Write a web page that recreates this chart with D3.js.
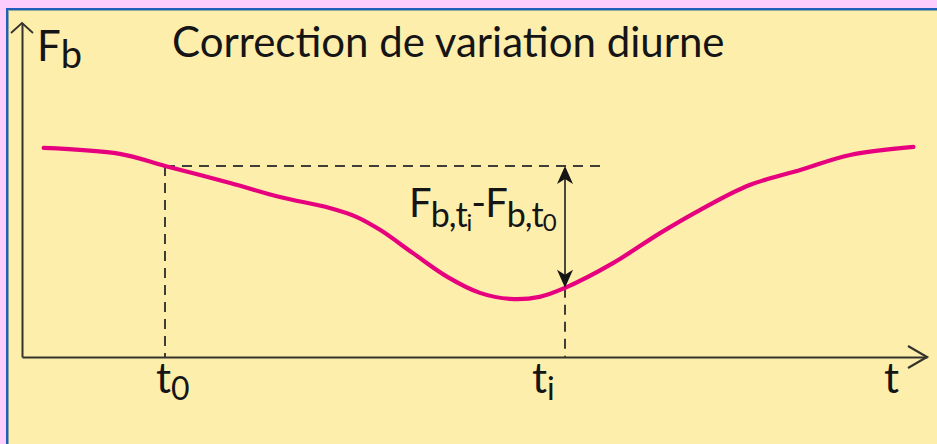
<!DOCTYPE html>
<html lang="fr">
<head>
<meta charset="utf-8">
<title>Correction de variation diurne</title>
<script src="https://d3js.org/d3.v7.min.js"></script>
<style>
body { margin: 0; background: #fdcdfd; }
svg { display: block; }
</style>
</head>
<body>
<svg id="chart" width="937" height="444"></svg>
<script>
// colours
pink = "#fdcdfd"
frameBlue = "#1f5fb8"
paper = "#feeeac"
curveCol = "#e6007e"
ink = "#151515"
axisCol = "#35342c"
dashCol = "#3e3d36"

// data : t and Fb in arbitrary units (0..100)
times = [2.4, 10.8, 15.8, 23.0, 28.5, 34.0, 37.0, 39.6, 43.2, 47.0, 50.6, 53.9, 57.2, 60.0, 65.3, 70.5, 74.9, 80.4, 86.0, 91.5, 98.5]
fbValues = [62.6, 60.8, 57.2, 52.1, 47.9, 44.6, 41.9, 38.0, 31.1, 24.0, 19.2, 17.4, 18.0, 20.7, 28.1, 37.1, 44.0, 51.5, 56.0, 60.5, 62.9]
t0 = 15.8
ti = 60.0
fbT0 = 57.2
fbTi = 20.7
refEnd = 63.9
tickTimes = [t0, ti]
tickSubs = ["0", "i"]
titleText = "Correction de variation diurne"

var svg = d3.select("#chart")
var font = "Lato, 'Open Sans', sans-serif"

// frame
svg.append("rect").attr("width", 937).attr("height", 444).attr("fill", pink)
svg.append("rect").attr("x", 6).attr("y", 8).attr("width", 931).attr("height", 436).attr("fill", frameBlue)
svg.append("rect").attr("x", 8).attr("y", 10).attr("width", 929).attr("height", 434).attr("fill", "#8fa8a0")
svg.append("rect").attr("x", 9).attr("y", 11).attr("width", 928).attr("height", 433).attr("fill", paper)

// scales
var x = d3.scaleLinear().domain([0, 100]).range([22, 927])
var y = d3.scaleLinear().domain([0, 100]).range([357, 23])

// x axis
var xAxis = svg.append("g")
	.attr("transform", "translate(0," + y(0) + ")")
	.call(d3.axisBottom(x).tickValues(tickTimes).tickSize(0).tickSizeOuter(0).tickFormat(""))
xAxis.select(".domain").attr("stroke", axisCol).attr("stroke-width", 2.2)
xAxis.selectAll(".tick text").remove()

// y axis
var yAxis = svg.append("g")
	.attr("transform", "translate(" + x(0) + ",0)")
	.call(d3.axisLeft(y).tickValues([]).tickSizeOuter(0))
yAxis.select(".domain").attr("stroke", axisCol).attr("stroke-width", 2)

// axis arrow heads (open)
svg.append("path")
	.attr("d", "M" + (x(100) - 19) + "," + (y(0) - 11) + "L" + x(100) + "," + y(0) + "L" + (x(100) - 19) + "," + (y(0) + 11))
	.attr("fill", "none").attr("stroke", axisCol).attr("stroke-width", 2.2)
svg.append("path")
	.attr("d", "M" + (x(0) - 11) + "," + (y(100) + 10) + "L" + x(0) + "," + y(100) + "L" + (x(0) + 11) + "," + (y(100) + 10))
	.attr("fill", "none").attr("stroke", axisCol).attr("stroke-width", 1.8)

// dashed reference lines
var dashed = svg.append("g").attr("stroke", dashCol).attr("stroke-width", 2).attr("stroke-dasharray", "10,7").attr("fill", "none")
dashed.append("line").attr("x1", x(t0)).attr("x2", x(refEnd)).attr("y1", y(fbT0)).attr("y2", y(fbT0))
dashed.append("line").attr("x1", x(t0)).attr("x2", x(t0)).attr("y1", y(fbT0)).attr("y2", y(0))
dashed.append("line").attr("x1", x(ti)).attr("x2", x(ti)).attr("y1", y(fbTi)).attr("y2", y(0))

// curve
var line = d3.line()
	.x(function(d, i) { return x(times[i]) })
	.y(function(d) { return y(d) })
	.curve(d3.curveCatmullRom)
svg.append("path")
	.datum(fbValues)
	.attr("d", line)
	.attr("fill", "none")
	.attr("stroke", curveCol)
	.attr("stroke-width", 4.2)
	.attr("stroke-linecap", "round")

// double arrow Fb(ti) - Fb(t0)
var ax = x(ti), yTop = y(fbT0), yBot = y(fbTi)
svg.append("line").attr("x1", ax).attr("x2", ax).attr("y1", yTop + 8).attr("y2", yBot - 8)
	.attr("stroke", "#4a4a3c").attr("stroke-width", 2)
svg.append("path")
	.attr("d", "M" + ax + "," + yTop + "L" + (ax + 8) + "," + (yTop + 18) + "L" + ax + "," + (yTop + 13) + "L" + (ax - 8) + "," + (yTop + 18) + "Z")
	.attr("fill", ink)
svg.append("path")
	.attr("d", "M" + ax + "," + yBot + "L" + (ax + 8) + "," + (yBot - 18) + "L" + ax + "," + (yBot - 13) + "L" + (ax - 8) + "," + (yBot - 18) + "Z")
	.attr("fill", ink)

// title
svg.append("text")
	.attr("x", 172).attr("y", 57)
	.attr("font-family", font).attr("font-size", 42)
	.attr("fill", ink)
	.text(titleText)

// y label F_b
var fb = svg.append("text").attr("x", 37).attr("y", 61).attr("font-family", font).attr("font-size", 42).attr("fill", ink)
fb.append("tspan").text("F")
fb.append("tspan").attr("dy", 7).attr("font-size", 38).text("b")

// x label t
svg.append("text").attr("x", 884).attr("y", 393).attr("font-family", font).attr("font-size", 42).attr("fill", ink).text("t")

// tick labels t0, ti
var tickShift = [-9, -33]
tickTimes.forEach(function(t, i) {
	var lab = svg.append("text").attr("x", x(t) + tickShift[i]).attr("y", 393)
		.attr("font-family", font).attr("font-size", 42).attr("fill", ink)
	lab.append("tspan").text("t")
	lab.append("tspan").attr("dy", 7).attr("font-size", 32).text(tickSubs[i])
})

// difference label
var diff = svg.append("text").attr("x", 409).attr("y", 217)
	.attr("font-family", font).attr("font-size", 40).attr("fill", ink)
	.attr("letter-spacing", -1)
diff.append("tspan").text("F")
diff.append("tspan").attr("dy", 10).attr("font-size", 34).text("b,t")
diff.append("tspan").attr("dy", 4).attr("font-size", 24).text(tickSubs[1])
diff.append("tspan").attr("dy", -14).text("-F")
diff.append("tspan").attr("dy", 10).attr("font-size", 34).text("b,t")
diff.append("tspan").attr("dy", 4).attr("font-size", 24).text(tickSubs[0])
</script>
</body>
</html>
